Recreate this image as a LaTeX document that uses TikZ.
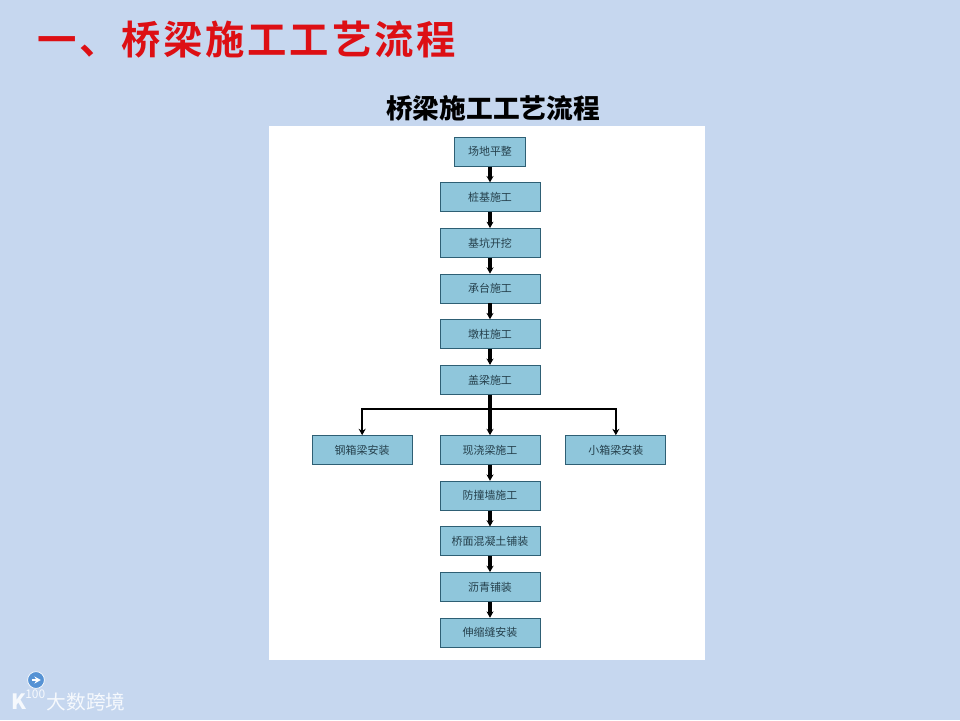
\documentclass[tikz,border=0pt]{standalone}
\usepackage{fontspec}
\setmainfont{Noto Sans CJK SC}
\newfontfamily\redfont[LetterSpace=7,BoldFont={* Bold}]{Noto Sans CJK SC}
\usepackage{tikz}
\usetikzlibrary{arrows.meta, positioning, calc}
\definecolor{bgblue}{HTML}{C6D7EF}
\definecolor{boxblue}{HTML}{8FC6DB}
\definecolor{boxline}{HTML}{2E5F74}
\definecolor{boxtext}{HTML}{25404C}
\definecolor{titlered}{HTML}{DD0F14}

\begin{document}
\begin{tikzpicture}[>={Stealth[length=4.5pt,width=5pt]},node distance=.395cm and .625cm,
  every node/.style={font=\fontsize{7.8pt}{9pt}\selectfont},
  flowbox/.style={draw=boxline,line width=.6pt,fill=boxblue,text=boxtext,align=center,
    minimum height=.725cm,minimum width=2.5cm,inner sep=0pt},
  flowline/.style={->,line width=2.2pt},
  branchline/.style={->,line width=1.5pt}]
 \useasboundingbox (0,0) rectangle (24,-18);
 \fill[bgblue] (0,0) rectangle (24,-18);
 \fill[white] (6.725,-3.15) rectangle (17.625,-16.5);
 \node[anchor=west,inner sep=0pt,text=titlered,font=\redfont\bfseries\fontsize{28pt}{32pt}\selectfont] (heading) at (.925,-1) {一、桥梁施工工艺流程};
 \node[inner sep=0pt,text=black,font=\bfseries\fontsize{19pt}{22pt}\selectfont] (title) at (12.325,-2.72) {桥梁施工工艺流程};
 % main column
 \node[flowbox,minimum width=1.775cm] (site) at (12.25,-3.79) {场地平整};
 \node[flowbox,below=of site] (pile) {桩基施工};
 \node[flowbox,below=of pile] (pit) {基坑开挖};
 \node[flowbox,below=of pit] (pilecap) {承台施工};
 \node[flowbox,below=of pilecap] (pier) {墩柱施工};
 \node[flowbox,below=of pier] (capbeam) {盖梁施工};
 \node[flowbox,below=1.01cm of capbeam] (castbeam) {现浇梁施工};
 \node[flowbox,left=.675cm of castbeam] (steelbox) {钢箱梁安装};
 \node[flowbox,right=of castbeam] (smallbox) {小箱梁安装};
 \node[flowbox,below=of castbeam] (barrier) {防撞墙施工};
 \node[flowbox,below=of barrier] (deck) {桥面混凝土铺装};
 \node[flowbox,below=of deck] (asphalt) {沥青铺装};
 \node[flowbox,below=of asphalt] (joint) {伸缩缝安装};
 \draw[flowline] (site)--(pile);
 \draw[flowline] (pile)--(pit);
 \draw[flowline] (pit)--(pilecap);
 \draw[flowline] (pilecap)--(pier);
 \draw[flowline] (pier)--(capbeam);
 \draw[flowline] (capbeam)--(castbeam);
 \coordinate (fork) at ($(capbeam.south)+(0,-.35)$);
 \draw[branchline] (fork) -| (steelbox.north);
 \draw[branchline] (fork) -| (smallbox.north);
 \draw[flowline] (castbeam)--(barrier);
 \draw[flowline] (barrier)--(deck);
 \draw[flowline] (deck)--(asphalt);
 \draw[flowline] (asphalt)--(joint);
 % watermark
 \node[circle,fill=cyan!55!blue!70,draw=white,line width=.5pt,minimum size=.42cm,inner sep=0pt] (badge) at (.9,-17.0) {};
 \draw[->,white,line width=.8pt] ($(badge.center)+(-.11,0)$) -- ($(badge.center)+(.12,0)$);
 \node[inner sep=0pt,text=white!85!bgblue,font=\fontsize{14pt}{15pt}\selectfont] (logoname) at (2.15,-17.55) {大数跨境};
 \node[inner sep=0pt,text=white!85!bgblue,font=\bfseries\fontsize{15pt}{16pt}\selectfont] (logok) at (.47,-17.55) {K};
 \node[inner sep=0pt,text=white!85!bgblue,font=\fontsize{8.5pt}{9pt}\selectfont] (logonum) at (.88,-17.35) {100};
\end{tikzpicture}
\end{document}
